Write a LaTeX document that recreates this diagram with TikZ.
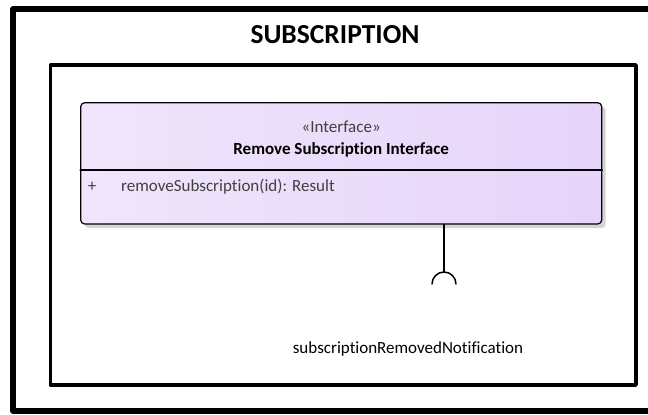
\documentclass[tikz,border=0pt]{standalone}
\usepackage{fontspec}
\setmainfont{Carlito}[Ligatures=NoCommon]
\usepackage{tikz}
\usetikzlibrary{positioning}
\definecolor{umlpurple}{HTML}{DCC6F8}
\definecolor{umllight}{HTML}{F1E7FC}
\definecolor{umlright}{HTML}{E0CCF8}
\definecolor{umlshadow}{HTML}{D4D4D4}
\definecolor{optext}{HTML}{404040}
\pgfdeclarehorizontalshading{ifaceshade}{100bp}{color(0bp)=(umlpurple); color(20bp)=(umllight); color(100bp)=(umlright)}
\tikzset{
  frameline/.style={line width=#1,draw=black},
  ifacebox/.style={draw=black,line width=1.2pt,rounded corners=4pt,shading=ifaceshade,
    minimum width=521pt,minimum height=121.3pt,inner sep=0pt},
  umltext/.style={inner sep=0pt,font=\fontsize{17}{20}\selectfont},
}
\begin{document}
\begin{tikzpicture}[line cap=round,line join=round,x=1pt,y=-1pt]
            \useasboundingbox (0.,0.) rectangle (648.,415.);
            \clip (0.,0.) rectangle (648.,415.);
            % frames
            \draw [frameline=5.5pt] (13.,9.) rectangle (670.,411.);
            \draw [frameline=3.5pt] (50.5,65.) rectangle (636.,385.);
            \node (title) at (335.,35.) {\fontsize{27.5}{32}\selectfont\bfseries SUBSCRIPTION};
            % interface class
            \fill [umlshadow, rounded corners=4pt] (84.7,106.7) rectangle (605.7,228.);
            \node [ifacebox] (iface) at (341.2,163.35) {};
            \draw [line width=1.2pt] (iface.west |- 0,170.) -- (iface.east |- 0,170.);
            \node [umltext, text=optext] (stereo) at (341.2,127.) {«Interface»};
            \node [umltext, font=\fontsize{17}{20}\selectfont\bfseries] (name) at (341.2,150.) {Remove Subscription Interface};
            \node [umltext, text=optext] (plus) at (92.,187.) {+};
            \node [umltext, text=optext, anchor=west] (op) at (121.,187.) {removeSubscription(id): Result};
            % required interface
            \coordinate (sock) at (444.,272.);
            \draw [line width=1.5pt] (iface.south -| sock) -- (sock);
            \draw [line width=1.5pt] (432.,284.) arc (180:360:12.);
            \node [umltext] (notif) at (408.,349.) {subscriptionRemovedNotification};
\end{tikzpicture}
\end{document}
